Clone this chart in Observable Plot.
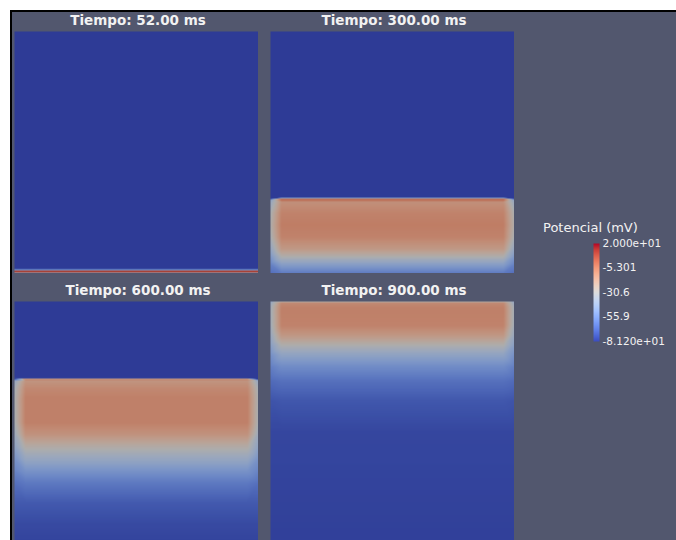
<!DOCTYPE html>
<html>
<head>
<meta charset="utf-8">
<script src="https://cdn.jsdelivr.net/npm/d3@7"></script>
<script src="https://cdn.jsdelivr.net/npm/@observablehq/plot@0.6"></script>
<style>
  html, body { margin: 0; padding: 0; background: #ffffff; }
  body { width: 676px; height: 540px; overflow: hidden; position: relative; font-family: "DejaVu Sans", sans-serif; }
  #frame { position: absolute; left: 10px; top: 10px; width: 720px; height: 580px; border-left: 2px solid #000; border-top: 2px solid #000; background: #52576e; }
  .panel { position: absolute; width: 244px; height: 242px; overflow: hidden; filter: brightness(0.78); }
  .panel svg { display: block; }
  .title { position: absolute; width: 244px; text-align: center; color: #f2f2f2; font-size: 13.5px; font-weight: 700; line-height: 16px; white-space: nowrap; }
  #cbtitle { position: absolute; left: 543px; top: 220px; color: #f2f2f2; font-size: 13px; line-height: 15px; white-space: nowrap; }
  #cbar { position: absolute; left: 590px; top: 237px; }
</style>
</head>
<body>
<div id="frame"></div>
<div id="root"></div>
<script>
// ---- Data ----
const times = ["52.00", "300.00", "600.00", "900.00"];
const unit = "ms";

// depth: 0 = top of tissue, 1 = bottom; values in mV
const depth52  = [0, 0.980, 0.9856, 0.9897, 0.9938, 0.9979, 1.0];
const center52 = [-81.2, -81.2, -50, 10, 10, -40, -40];
const edge52   = [-81.2, -81.2, -50, 10, 10, -40, -40];

const depth300  = [0, 0.686, 0.691, 0.697, 0.705, 0.75, 0.80, 0.85, 0.90, 0.93, 0.96, 1.0];
const center300 = [-81.2, -81.2, -4, -2, -14, -9, -7, -9, -18, -30, -45, -62];
const edge300   = [-81.2, -81.2, -81.2, -45, -40, -32, -30, -33, -42, -50, -58, -66];

const depth600  = [0, 0.316, 0.321, 0.327, 0.36, 0.40, 0.50, 0.55, 0.60, 0.65, 0.70, 0.75, 0.83, 0.92, 1.0];
const center600 = [-81.2, -81.2, -4, -16, -11, -8, -8, -15, -28, -40, -52, -62, -72, -77, -79];
const edge600   = [-81.2, -81.2, -81.2, -42, -34, -32, -33, -38, -44, -52, -58, -65, -72, -77, -79];

const depth900  = [0, 0.006, 0.02, 0.04, 0.10, 0.14, 0.18, 0.22, 0.27, 0.33, 0.41, 0.54, 1.0];
const center900 = [-32, -12, -9, -8, -9, -17, -30, -43, -55, -65, -73, -78, -80];
const edge900   = [-45, -40, -36, -35, -36, -40, -46, -53, -60, -67, -74, -78, -80];

const panels = [
  {time: times[0], depth: depth52,  center: center52,  edge: edge52,  left: 14,  top: 31},
  {time: times[1], depth: depth300, center: center300, edge: edge300, left: 270, top: 31},
  {time: times[2], depth: depth600, center: center600, edge: edge600, left: 14,  top: 301},
  {time: times[3], depth: depth900, center: center900, edge: edge900, left: 270, top: 301}
];

// colour legend
const legendTitle = "Potencial (mV)";
const vMin = -81.2, vMax = 20;
const legendTicks  = [20, -5.301, -30.6, -55.9, -81.2];
const legendLabels = ["2.000e+01", "-5.301", "-30.6", "-55.9", "-8.120e+01"];

// ParaView "Cool to Warm" map
const coolWarm = ["#3b4cc0","#4d68d7","#6282ea","#779af7","#8db0fe","#a3c2ff","#b8d0f9","#cad8ef",
                  "#dddddd","#ecd3c5","#f5c4ad","#f7b194","#f49a7b","#ec7f63","#de604d","#cb3e38","#b40426"];
const stopValues = coolWarm.map((_, i) => vMin + (vMax - vMin) * i / (coolWarm.length - 1));
const colorScale = {type: "linear", domain: stopValues, range: coolWarm, interpolate: "rgb", clamp: true};

const edgeWidth = 0.045;
const root = document.getElementById("root");

for (const p of panels) {
  const pts = [];
  p.depth.forEach((d, i) => {
    pts.push({x: 0, y: d, v: p.edge[i]});
    pts.push({x: edgeWidth, y: d, v: p.center[i]});
    pts.push({x: 1 - edgeWidth, y: d, v: p.center[i]});
    pts.push({x: 1, y: d, v: p.edge[i]});
  });
  const chart = Plot.plot({
    width: 244, height: 242,
    margin: 0,
    x: {domain: [0, 1], axis: null},
    y: {domain: [0, 1], reverse: true, axis: null},
    color: colorScale,
    style: {background: "transparent"},
    marks: [
      Plot.raster(pts, {x: "x", y: "y", fill: "v", interpolate: "barycentric",
                        x1: 0, x2: 1, y1: 0, y2: 1, pixelSize: 1})
    ]
  });
  const div = document.createElement("div");
  div.className = "panel";
  div.style.left = p.left + "px";
  div.style.top = p.top + "px";
  div.appendChild(chart);
  root.appendChild(div);

  const t = document.createElement("div");
  t.className = "title";
  t.style.left = (p.left + 2) + "px";
  t.style.top = (p.top - 19) + "px";
  t.textContent = "Tiempo: " + p.time + " " + unit;
  root.appendChild(t);
}

// colour bar
const ct = document.createElement("div");
ct.id = "cbtitle";
ct.textContent = legendTitle;
root.appendChild(ct);

const barPts = [];
stopValues.forEach(v => { barPts.push({x: 0, y: v}); barPts.push({x: 1, y: v}); });
const bar = Plot.plot({
  width: 84, height: 110,
  marginTop: 6, marginBottom: 6, marginLeft: 3, marginRight: 75,
  x: {domain: [0, 1], axis: null},
  y: {domain: [vMin, vMax], axis: null},
  color: colorScale,
  style: {background: "transparent", color: "#f2f2f2", fontSize: "10.5px", fontFamily: "'DejaVu Sans', sans-serif"},
  marks: [
    Plot.raster(barPts, {x: "x", y: "y", fill: "y", interpolate: "barycentric",
                         x1: 0, x2: 1, y1: vMin, y2: vMax, pixelSize: 1}),
    Plot.axisY({anchor: "right", ticks: legendTicks, tickSize: 0, tickPadding: 3, label: null,
                tickFormat: v => legendLabels[legendTicks.indexOf(v)]})
  ]
});
const cb = document.createElement("div");
cb.id = "cbar";
cb.appendChild(bar);
root.appendChild(cb);
</script>
</body>
</html>
